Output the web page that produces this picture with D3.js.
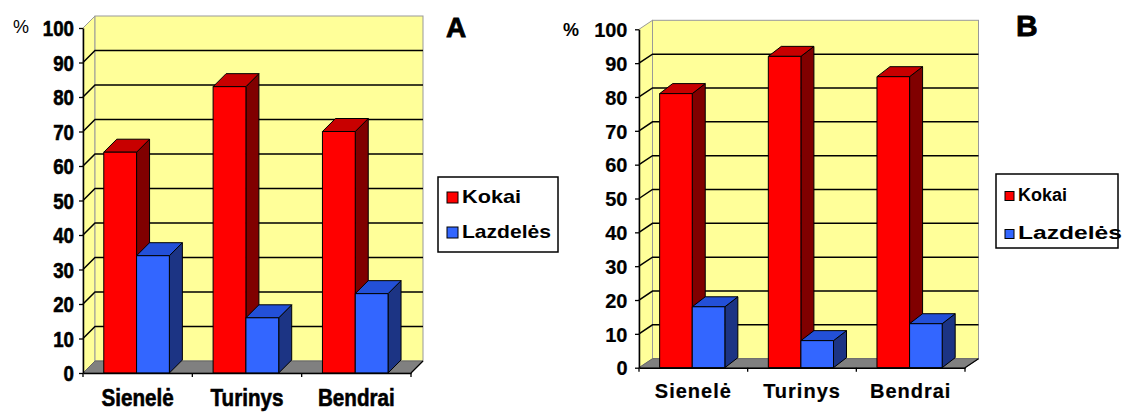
<!DOCTYPE html>
<meta charset="utf-8">
<script src="https://d3js.org/d3.v7.min.js"></script>
<style>
  body { margin: 0; background: #fff; }
  text { font-family: "Liberation Sans", Arial, sans-serif; fill: #000; }
</style>
<div id="my_dataviz"></div>
<script>

// data
var categories = ["Sienelė", "Turinys", "Bendrai"];
var series = ["Kokai", "Lazdelės"];
var kokaiA = [64, 83, 70];
var lazdelesA = [34, 16, 23];
var kokaiB = [81, 92, 86];
var lazdelesB = [18, 8, 13];
var yTicks = [0, 10, 20, 30, 40, 50, 60, 70, 80, 90, 100];

var colors = {
  Kokai:    { front: "#ff0000", top: "#c80000", side: "#800000" },
  "Lazdelės": { front: "#3366ff", top: "#2350d8", side: "#1c3484" }
};

// layout of the two panels
var charts = [
  { title: "A", values: [kokaiA, lazdelesA],
    x0: 83, x1: 411, yBase: 373, yTop: 28, dx: 12, dy: 12, bdx: 13, bdy: 13,
    tickFont: 22, tickScale: 0.85, tickGap: 9, heavy: 0.6,
    catFont: 24, catScale: 0.86, catSpacing: 0, catOffset: 32.5,
    pct: { x: 13, y: 33, size: 18, weight: "normal" },
    titlePos: { x: 446, y: 37, size: 28 },
    legend: { x: 438, y: 177, w: 120, h: 75, font: 19, rows: [203, 238], lens: [59, 89], adjust: "spacingAndGlyphs", sq: 11 } },
  { title: "B", values: [kokaiB, lazdelesB],
    x0: 639, x1: 965, yBase: 367.7, yTop: 29.3, dx: 13.5, dy: 9, bdx: 13, bdy: 10,
    tickFont: 20, tickScale: 1, tickGap: 11.5, heavy: 0.2,
    catFont: 20, catScale: 1, catSpacing: 1, catOffset: 30.6,
    pct: { x: 563, y: 36, size: 18, weight: "bold" },
    titlePos: { x: 1016, y: 36, size: 30 },
    legend: { x: 996, y: 174, w: 122, h: 74, font: 18, rows: [200.5, 238.5], lens: [49, 104], adjust: "spacingAndGlyphs", sq: 9 } }
];

var svg = d3.select("#my_dataviz")
  .append("svg")
    .attr("width", 1122)
    .attr("height", 412);

svg.append("rect").attr("width", 1122).attr("height", 412).attr("fill", "#fff");

charts.forEach(drawChart);

function pts(a) { return a.map(function(p) { return p.join(","); }).join(" "); }

function drawChart(c) {
  var g = svg.append("g");

  var y = d3.scaleLinear().domain([0, 100]).range([c.yBase, c.yTop]);
  var x = d3.scaleBand().domain(categories).range([c.x0, c.x1]);
  var bw = x.bandwidth();
  var xs = d3.scaleBand().domain(series).range([bw * 0.19, bw * 0.79]);

  var y0 = y(0), y100 = y(100);

  // walls
  g.append("polygon")
    .attr("points", pts([[c.x0, y0], [c.x0, y100], [c.x0 + c.dx, y100 - c.dy], [c.x0 + c.dx, y0 - c.dy]]))
    .attr("fill", "#ffff99").attr("stroke", "#999").attr("stroke-width", 1);
  g.append("rect")
    .attr("x", c.x0 + c.dx).attr("y", y100 - c.dy)
    .attr("width", c.x1 - c.x0).attr("height", y0 - y100)
    .attr("fill", "#ffff99").attr("stroke", "#999").attr("stroke-width", 1);

  // floor
  g.append("polygon")
    .attr("points", pts([[c.x0, y0], [c.x1, y0], [c.x1 + c.dx, y0 - c.dy], [c.x0 + c.dx, y0 - c.dy]]))
    .attr("fill", "#808080").attr("stroke", "#666").attr("stroke-width", 1);

  // gridlines
  g.selectAll(".grid")
    .data(yTicks.filter(function(t) { return t > 0 && t < 100; }))
    .enter().append("polyline")
      .attr("points", function(t) {
        return pts([[c.x0, y(t)], [c.x0 + c.dx, y(t) - c.dy], [c.x1 + c.dx, y(t) - c.dy]]);
      })
      .attr("fill", "none").attr("stroke", "#000").attr("stroke-width", 1.5);

  // bars
  categories.forEach(function(cat, i) {
    series.forEach(function(s, j) {
      var v = c.values[j][i];
      var bx = x(cat) + xs(s), w = xs.bandwidth();
      var top = y(v), bot = y(0);
      var col = colors[s];
      var bar = g.append("g").attr("stroke", "#000").attr("stroke-width", 1).attr("stroke-linejoin", "round");
      bar.append("polygon")
        .attr("points", pts([[bx + w, top], [bx + w + c.bdx, top - c.bdy], [bx + w + c.bdx, bot - c.bdy], [bx + w, bot]]))
        .attr("fill", col.side);
      bar.append("polygon")
        .attr("points", pts([[bx, top], [bx + c.bdx, top - c.bdy], [bx + w + c.bdx, top - c.bdy], [bx + w, top]]))
        .attr("fill", col.top);
      bar.append("rect")
        .attr("x", bx).attr("y", top).attr("width", w).attr("height", bot - top)
        .attr("fill", col.front);
    });
  });

  // y axis
  var yAxis = g.append("g")
    .attr("transform", "translate(" + c.x0 + ",0)")
    .call(d3.axisLeft(y).tickValues(yTicks).tickSize(4).tickSizeOuter(0));
  yAxis.select(".domain").attr("stroke", "#000").attr("stroke-width", 1.5);
  yAxis.selectAll(".tick line").attr("stroke", "#000").attr("stroke-width", 1.3);
  yAxis.selectAll(".tick text")
    .attr("x", -c.tickGap / c.tickScale)
    .attr("dy", "0.36em")
    .attr("transform", "scale(" + c.tickScale + ",1)")
    .style("font-size", c.tickFont + "px")
    .style("font-weight", "bold")
    .style("font-family", "'Liberation Sans', Arial, sans-serif")
    .attr("fill", "#000")
    .attr("stroke", "#000").attr("stroke-width", c.heavy);

  // x axis
  var xAxis = g.append("g")
    .attr("transform", "translate(0," + y0 + ")")
    .call(d3.axisBottom(x).tickSize(0).tickSizeOuter(0));
  xAxis.select(".domain").attr("stroke", "#000").attr("stroke-width", 1.5);
  xAxis.selectAll(".tick text")
    .attr("y", 0).attr("dy", 0)
    .attr("transform", "translate(0," + c.catOffset + ") scale(" + c.catScale + ",1)")
    .style("font-size", c.catFont + "px")
    .style("font-weight", "bold")
    .style("letter-spacing", c.catSpacing + "px")
    .style("font-family", "'Liberation Sans', Arial, sans-serif")
    .attr("fill", "#000")
    .attr("stroke", "#000").attr("stroke-width", c.heavy);

  // boundary ticks on the x axis
  g.selectAll(".xb")
    .data(d3.range(categories.length + 1))
    .enter().append("line")
      .attr("x1", function(k) { return c.x0 + k * x.step(); })
      .attr("x2", function(k) { return c.x0 + k * x.step(); })
      .attr("y1", y0).attr("y2", y0 + 4)
      .attr("stroke", "#000").attr("stroke-width", 1.3);
  g.append("line")
    .attr("x1", c.x1).attr("y1", y0)
    .attr("x2", c.x1 + c.dx).attr("y2", y0 - c.dy)
    .attr("stroke", "#000").attr("stroke-width", 1.2);

  // percent sign
  g.append("text")
    .attr("x", c.pct.x).attr("y", c.pct.y)
    .style("font-size", c.pct.size + "px")
    .style("font-weight", c.pct.weight)
    .text("%");

  // panel letter
  g.append("text")
    .attr("x", c.titlePos.x).attr("y", c.titlePos.y)
    .style("font-size", c.titlePos.size + "px")
    .style("font-weight", "bold")
    .attr("stroke", "#000").attr("stroke-width", 0.8)
    .text(c.title);

  // legend
  var L = c.legend;
  var lg = g.append("g");
  lg.append("rect")
    .attr("x", L.x).attr("y", L.y).attr("width", L.w).attr("height", L.h)
    .attr("fill", "#fff").attr("stroke", "#000").attr("stroke-width", 1.5);
  series.forEach(function(s, j) {
    lg.append("rect")
      .attr("x", L.x + 9).attr("y", L.rows[j] - L.sq)
      .attr("width", L.sq).attr("height", L.sq)
      .attr("fill", colors[s].front).attr("stroke", "#000").attr("stroke-width", 1);
    lg.append("text")
      .attr("x", L.x + 9 + L.sq + 4).attr("y", L.rows[j])
      .attr("textLength", L.lens[j])
      .attr("lengthAdjust", L.adjust)
      .style("font-size", L.font + "px")
      .style("font-weight", "bold")
      .text(s);
  });
}

</script>
